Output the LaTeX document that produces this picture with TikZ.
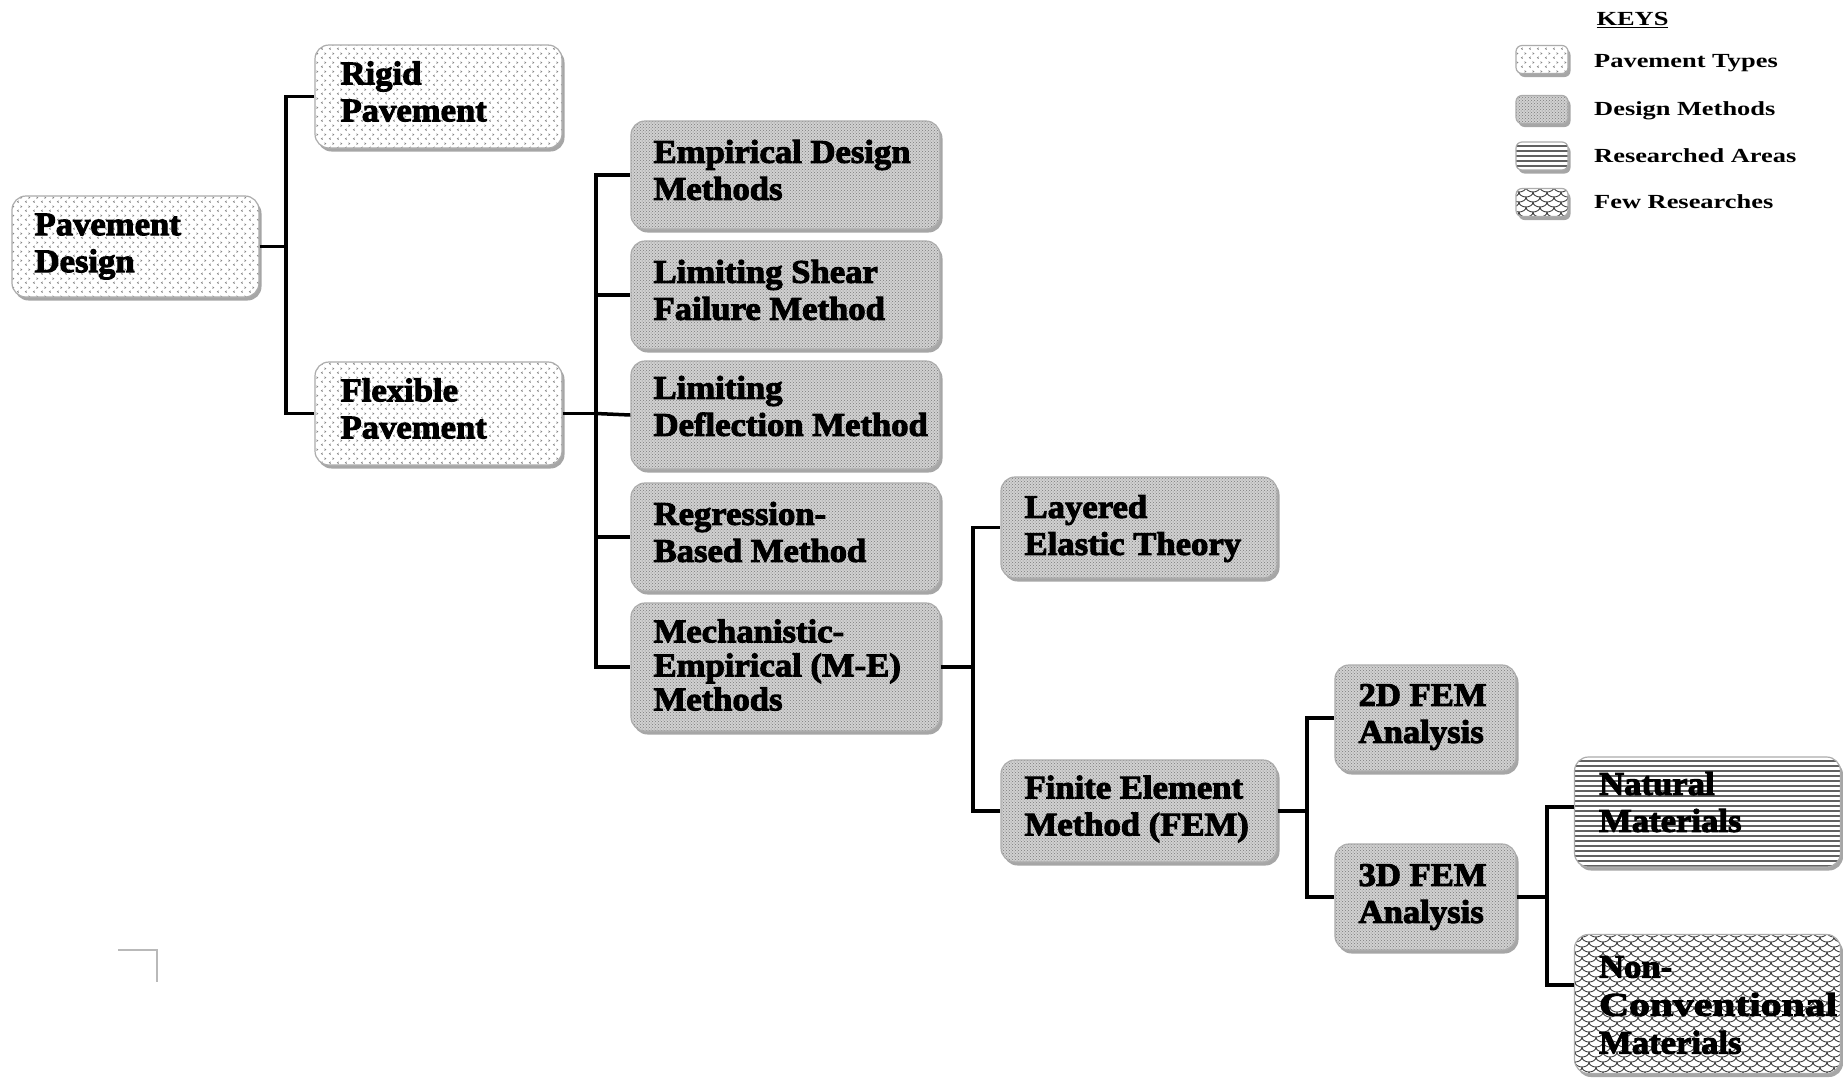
\documentclass[tikz,border=0pt]{standalone}
\usepackage{fontspec}
\usepackage{graphicx}
\setmainfont{Liberation Serif}[FakeStretch=1.05, BoldFeatures={FakeBold=3}]
\newfontfamily\keyfont{Liberation Serif}[FakeStretch=1.32]
\usetikzlibrary{patterns,shadows}

\pgfdeclarepatternformonly{chevs}{\pgfqpoint{0pt}{0pt}}{\pgfqpoint{8pt}{9pt}}{\pgfqpoint{8pt}{9pt}}{%
  \pgfsetlinewidth{0.7pt}%
  \pgfpathmoveto{\pgfqpoint{3pt}{3.5pt}}\pgfpathlineto{\pgfqpoint{1.5pt}{2.5pt}}\pgfpathlineto{\pgfqpoint{3pt}{1.5pt}}%
  \pgfpathmoveto{\pgfqpoint{5pt}{8pt}}\pgfpathlineto{\pgfqpoint{6.5pt}{7pt}}\pgfpathlineto{\pgfqpoint{5pt}{6pt}}%
  \pgfusepathqstroke}
\pgfdeclarepatternformonly{hthick}{\pgfqpoint{-0.1pt}{0pt}}{\pgfqpoint{4.1pt}{5pt}}{\pgfqpoint{4pt}{5pt}}{%
  \pgfpathrectangle{\pgfqpoint{-0.1pt}{0pt}}{\pgfqpoint{4.2pt}{1.9pt}}\pgfusepathqfill}
\pgfdeclarepatternformonly{scales}{\pgfqpoint{-8pt}{-1pt}}{\pgfqpoint{15pt}{11pt}}{\pgfqpoint{14pt}{10pt}}{%
  \pgfsetlinewidth{0.9pt}%
  \pgfpathmoveto{\pgfqpoint{0pt}{10pt}}\pgfpatharc{180}{360}{7pt and 5pt}%
  \pgfpathmoveto{\pgfqpoint{-7pt}{5pt}}\pgfpatharc{180}{360}{7pt and 5pt}%
  \pgfusepathqstroke}

\tikzset{
  box/.style={rectangle, rounded corners=14pt, draw=gray!65, line width=1.2pt, inner sep=0pt,
    drop shadow={shadow xshift=2.5pt, shadow yshift=-3.5pt, opacity=.35, fill=black}},
  ptype/.style={box, preaction={fill=white}, pattern=chevs, pattern color=gray!95},
  dmeth/.style={box, preaction={fill=gray!36}, pattern=crosshatch dots, pattern color=black!52},
  resa/.style={box, preaction={fill=white}, pattern=hthick, pattern color=black!62},
  fewr/.style={box, preaction={fill=white}, pattern=scales, pattern color=black!75},
  lbl/.style={anchor=west, inner sep=0pt, align=left, font=\fontsize{33}{37}\selectfont\bfseries, yshift=3pt},
  lblmech/.style={lbl, font=\fontsize{33}{34}\selectfont\bfseries, yshift=-1pt},
  lblnonc/.style={lbl, font=\fontsize{33}{38}\selectfont\bfseries, yshift=-4pt},
  conn/.style={line width=3.5pt, black},
  keybox/.style={rounded corners=6pt, minimum width=52pt, minimum height=28pt},
  keylbl/.style={anchor=base west, inner sep=0pt, font=\keyfont\fontsize{20}{22}\selectfont\bfseries},
}

\begin{document}
\begin{tikzpicture}[x=1pt,y=-1pt]
\useasboundingbox (0,0) rectangle (1843,1077);
\fill[white] (0,0) rectangle (1843,1077);

% boxes
\node[ptype, minimum width=247pt, minimum height=101pt] (pd) at (135.5,246.5) {};
\node[ptype, minimum width=247pt, minimum height=103pt] (rigid) at (438.5,96.5) {};
\node[ptype, minimum width=247pt, minimum height=103pt] (flex) at (438.5,413.5) {};

\node[dmeth, minimum width=309pt, minimum height=108pt] (emp) at (785.5,175) {};
\node[dmeth, minimum width=309pt, minimum height=108pt] (shear) at (785.5,295) {};
\node[dmeth, minimum width=309pt, minimum height=108pt] (defl) at (785.5,415) {};
\node[dmeth, minimum width=309pt, minimum height=108pt] (regr) at (785.5,537) {};
\node[dmeth, minimum width=309pt, minimum height=128pt] (mech) at (785.5,667) {};

\node[dmeth, minimum width=276pt, minimum height=101pt] (layer) at (1139,527.5) {};
\node[dmeth, minimum width=276pt, minimum height=102pt] (fem) at (1139,811) {};
\node[dmeth, minimum width=181pt, minimum height=106pt] (fem2) at (1425.5,718) {};
\node[dmeth, minimum width=181pt, minimum height=106pt] (fem3) at (1425.5,897) {};

\node[resa, minimum width=266pt, minimum height=110pt] (nat) at (1707.5,812) {};
\node[fewr, minimum width=266pt, minimum height=139pt] (nonc) at (1707.5,1004) {};

% labels
\node[lbl, yshift=-3pt] (pdt) at ([xshift=23pt]pd.west) {Pavement\\Design};
\node[lbl, yshift=2pt] (rigidt) at ([xshift=26pt]rigid.west) {Rigid\\Pavement};
\node[lbl, yshift=2pt] (flext) at ([xshift=26pt]flex.west) {Flexible\\Pavement};
\node[lbl, yshift=2pt] (empt) at ([xshift=23pt]emp.west) {Empirical Design\\Methods};
\node[lbl, yshift=2pt] (sheart) at ([xshift=23pt]shear.west) {Limiting Shear\\Failure Method};
\node[lbl, yshift=6pt] (deflt) at ([xshift=23pt]defl.west) {Limiting\\Deflection Method};
\node[lbl, yshift=2pt] (regrt) at ([xshift=23pt]regr.west) {Regression-\\Based Method};
\node[lblmech] (mecht) at ([xshift=23pt]mech.west) {Mechanistic-\\Empirical (M-E)\\Methods};
\node[lbl, yshift=-4pt] (layert) at ([xshift=24pt]layer.west) {Layered\\Elastic Theory};
\node[lbl, yshift=-1pt] (femt) at ([xshift=24pt]fem.west) {Finite Element\\Method (FEM)};
\node[lbl, yshift=-2pt] (fem2t) at ([xshift=24pt]fem2.west) {2D FEM\\Analysis};
\node[lbl, yshift=-3pt] (fem3t) at ([xshift=24pt]fem3.west) {3D FEM\\Analysis};
\node[lbl, yshift=7pt] (natt) at ([xshift=25pt]nat.west) {Natural\\Materials};
\node[lblnonc] (nonct) at ([xshift=25pt]nonc.west) {Non-\\\scalebox{1.2}[1]{Conventional}\\Materials};

% connectors
\coordinate (j1) at (286,246.5);
\draw[conn] (pd.east) -- (j1);
\draw[conn] (j1) |- (rigid.west);
\draw[conn] (j1) |- (flex.west);

\coordinate (j2) at (596,413.5);
\draw[conn] (flex.east) -- (j2);
\draw[conn] (j2) |- (emp.west);
\draw[conn] (j2) |- (shear.west);
\draw[conn] (j2) -- (defl.west);
\draw[conn] (j2) |- (regr.west);
\draw[conn] (j2) |- (mech.west);

\coordinate (j3) at (973,667);
\draw[conn] (mech.east) -- (j3);
\draw[conn] (j3) |- (layer.west);
\draw[conn] (j3) |- (fem.west);

\coordinate (j4) at (1307,811);
\draw[conn] (fem.east) -- (j4);
\draw[conn] (j4) |- (fem2.west);
\draw[conn] (j4) |- (fem3.west);

\coordinate (j5) at (1547,897);
\draw[conn] (fem3.east) -- (j5);
\draw[conn] (j5) |- ([yshift=5pt]nat.west);
\draw[conn] (j5) |- ([yshift=19pt]nonc.west);

% keys
\node[keylbl, anchor=center] (keys) at (1632.5,20) {\underline{KEYS}};
\node[ptype, keybox] (k1) at (1542,59.5) {};
\node[dmeth, keybox] (k2) at (1542,109.5) {};
\node[resa, keybox] (k3) at (1542,156) {};
\node[fewr, keybox] (k4) at (1542,202.5) {};
\node[keylbl] (k1t) at (1594,67) {Pavement Types};
\node[keylbl] (k2t) at (1594,115) {Design Methods};
\node[keylbl] (k3t) at (1594,162) {Researched Areas};
\node[keylbl] (k4t) at (1594,208) {Few Researches};

% corner mark
\draw[gray!55, line width=1.5pt] (118,950) -- (157,950) -- (157,982);
\end{tikzpicture}
\end{document}
